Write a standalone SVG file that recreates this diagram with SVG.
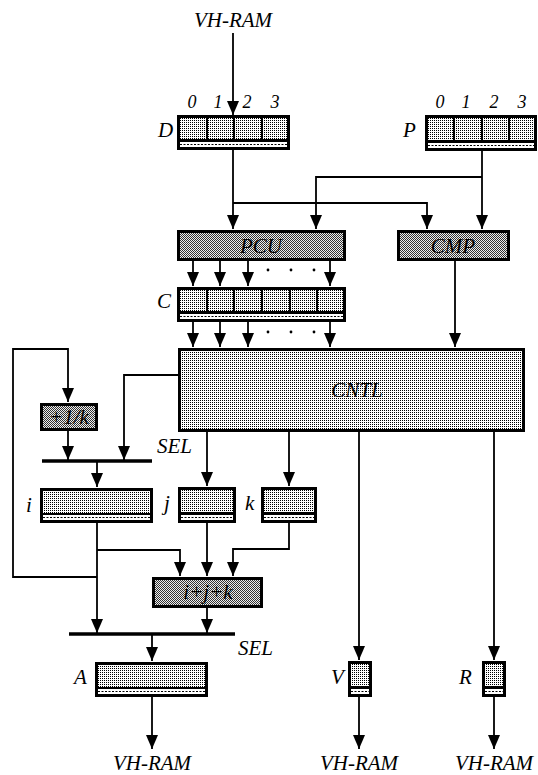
<svg xmlns="http://www.w3.org/2000/svg" width="538" height="775" viewBox="0 0 538 775">
<defs>
<pattern id="lt" width="2" height="2" patternUnits="userSpaceOnUse"><rect width="2" height="2" fill="#fff"/><rect width="1" height="1" fill="#000"/></pattern>
<pattern id="dk" width="2" height="2" patternUnits="userSpaceOnUse"><rect width="2" height="2" fill="#eee"/><rect width="1" height="1" fill="#333"/><rect x="1" y="1" width="1" height="1" fill="#333"/></pattern>
<marker id="ah" viewBox="0 -6 14 12" refX="14" refY="0" markerWidth="14" markerHeight="12" markerUnits="userSpaceOnUse" orient="auto"><path d="M0,-6 L14,0 L0,6 z" fill="#000"/></marker>
<style>
text{font-family:"Liberation Serif","Times New Roman",serif;font-style:italic;fill:#000;font-size:21px}
.num{font-size:18px;text-anchor:middle}
.mid{text-anchor:middle}
.box{stroke:#000;stroke-width:3}
.lt{fill:url(#lt)}
.dk{fill:url(#dk)}
.blk{fill:#000}
.cell{fill:url(#lt)}
.strip{fill:#fff}
.wave{stroke:#000;stroke-width:1.2;stroke-dasharray:2 1.5;fill:none}
.c{fill:none;stroke:#000;stroke-width:1.8}
.a{marker-end:url(#ah)}
.bar{fill:none;stroke:#000;stroke-width:3.5}
</style>
</defs>
<rect width="538" height="775" fill="#fff"/>

<g id="connectors">
<path class="c a" d="M233,33 V115"/>
<path class="c a" d="M233,150 V229"/>
<path class="c a" d="M233,203 H427 V229"/>
<path class="c a" d="M482,150 V229"/>
<path class="c a" d="M482,177 H316 V229"/>
<path class="c a" d="M193,261 V286"/>
<path class="c a" d="M220,261 V286"/>
<path class="c a" d="M248,261 V286"/>
<path class="c a" d="M330,261 V286"/>
<path class="c a" d="M193,322 V347"/>
<path class="c a" d="M220,322 V347"/>
<path class="c a" d="M248,322 V347"/>
<path class="c a" d="M330,322 V347"/>
<path class="c a" d="M455,261 V347"/>
<path class="c a" d="M97,577 H13 V349 H68 V402"/>
<path class="c a" d="M68,430 V460"/>
<path class="c a" d="M178,375 H124 V460"/>
<path class="bar" d="M42,461 H152"/>
<path class="c a" d="M97,462 V487"/>
<path class="c a" d="M97,523 V633"/>
<path class="c a" d="M97,550 H180 V576"/>
<path class="c a" d="M207,432 V486"/>
<path class="c a" d="M289,432 V486"/>
<path class="c a" d="M207,523 V576"/>
<path class="c a" d="M289,523 V549 H233 V576"/>
<path class="c a" d="M207,608 V633"/>
<path class="bar" d="M69,634 H235"/>
<path class="c a" d="M152,635 V661"/>
<path class="c a" d="M152,697 V749"/>
<path class="c a" d="M359,432 V660"/>
<path class="c a" d="M359,697 V749"/>
<path class="c a" d="M494,432 V660"/>
<path class="c a" d="M494,697 V749"/>
<g fill="#000">
<circle cx="268" cy="270" r="1.4"/><circle cx="291" cy="270" r="1.4"/><circle cx="314" cy="270" r="1.4"/>
<circle cx="268" cy="332" r="1.4"/><circle cx="291" cy="332" r="1.4"/><circle cx="314" cy="332" r="1.4"/>
</g>
</g>

<g id="labels-io">
<text class="mid" x="233" y="27">VH-RAM</text>
<text class="mid" x="152" y="770">VH-RAM</text>
<text class="mid" x="359" y="770">VH-RAM</text>
<text class="mid" x="494" y="770">VH-RAM</text>
</g>

<g id="D">
<rect class="blk" x="177" y="115" width="113" height="35"/>
<rect class="cell" x="180" y="118" width="26" height="21"/>
<rect class="cell" x="208" y="118" width="25" height="21"/>
<rect class="cell" x="235" y="118" width="26" height="21"/>
<rect class="cell" x="263" y="118" width="24" height="21"/>
<rect class="strip" x="180" y="142" width="107" height="5"/>
<line class="wave" x1="180" y1="144.5" x2="287" y2="144.5"/>
<text x="158" y="137">D</text>
<text class="num" x="192" y="108">0</text>
<text class="num" x="218" y="108">1</text>
<text class="num" x="247" y="108">2</text>
<text class="num" x="275" y="108">3</text>
</g>

<g id="P">
<rect class="blk" x="425" y="115" width="112" height="36"/>
<rect class="cell" x="428" y="118" width="25" height="22"/>
<rect class="cell" x="455" y="118" width="26" height="22"/>
<rect class="cell" x="483" y="118" width="25" height="22"/>
<rect class="cell" x="510" y="118" width="24" height="22"/>
<rect class="strip" x="428" y="143" width="106" height="5"/>
<line class="wave" x1="428" y1="145.5" x2="534" y2="145.5"/>
<text x="403" y="137">P</text>
<text class="num" x="440" y="108">0</text>
<text class="num" x="466" y="108">1</text>
<text class="num" x="494" y="108">2</text>
<text class="num" x="522" y="108">3</text>
</g>

<g id="PCU">
<rect class="box dk" x="178.5" y="231.5" width="166" height="28"/>
<text class="mid" x="261" y="253">PCU</text>
</g>

<g id="CMP">
<rect class="box dk" x="398.5" y="231.5" width="110" height="28"/>
<text class="mid" x="453" y="253">CMP</text>
</g>

<g id="C">
<rect class="blk" x="177" y="287" width="169" height="35"/>
<rect class="cell" x="180" y="290" width="26" height="21"/>
<rect class="cell" x="208" y="290" width="25" height="21"/>
<rect class="cell" x="235" y="290" width="26" height="21"/>
<rect class="cell" x="263" y="290" width="26" height="21"/>
<rect class="cell" x="291" y="290" width="25" height="21"/>
<rect class="cell" x="318" y="290" width="25" height="21"/>
<rect class="strip" x="180" y="314" width="163" height="5"/>
<line class="wave" x1="180" y1="316.5" x2="343" y2="316.5"/>
<text x="157" y="308">C</text>
</g>

<g id="CNTL">
<rect class="box lt" x="179.5" y="349.5" width="344" height="81"/>
<text class="mid" x="357" y="397">CNTL</text>
</g>

<g id="inc">
<rect class="box dk" x="41.5" y="404.5" width="55" height="25"/>
<text class="mid" x="69" y="424">+1/k</text>
</g>

<g id="sel1">
<text x="157" y="453">SEL</text>
</g>

<g id="i">
<rect class="blk" x="40" y="488" width="113" height="35"/>
<rect class="cell" x="43" y="491" width="107" height="22"/>
<rect class="strip" x="43" y="515" width="107" height="5"/>
<line class="wave" x1="43" y1="517.5" x2="150" y2="517.5"/>
<text x="26" y="512">i</text>
</g>

<g id="j">
<rect class="blk" x="178" y="487" width="58" height="36"/>
<rect class="cell" x="181" y="490" width="52" height="22"/>
<rect class="strip" x="181" y="515" width="52" height="5"/>
<line class="wave" x1="181" y1="517.5" x2="233" y2="517.5"/>
<text x="164" y="510">j</text>
</g>

<g id="k">
<rect class="blk" x="261" y="487" width="56" height="36"/>
<rect class="cell" x="264" y="490" width="50" height="22"/>
<rect class="strip" x="264" y="515" width="50" height="5"/>
<line class="wave" x1="264" y1="517.5" x2="314" y2="517.5"/>
<text x="245" y="510">k</text>
</g>

<g id="ijk">
<rect class="box dk" x="153.5" y="578.5" width="108" height="28"/>
<text class="mid" x="208" y="599">i+j+k</text>
</g>

<g id="sel2">
<text x="238" y="655">SEL</text>
</g>

<g id="A">
<rect class="blk" x="95" y="662" width="113" height="35"/>
<rect class="cell" x="98" y="665" width="107" height="22"/>
<rect class="strip" x="98" y="689" width="107" height="5"/>
<line class="wave" x1="98" y1="691.5" x2="205" y2="691.5"/>
<text x="74" y="684">A</text>
</g>

<g id="V">
<rect class="blk" x="348" y="661" width="24" height="36"/>
<rect class="cell" x="351" y="664" width="18" height="22"/>
<rect class="strip" x="351" y="689" width="18" height="5"/>
<line class="wave" x1="351" y1="691.5" x2="369" y2="691.5"/>
<text x="331" y="684">V</text>
</g>

<g id="R">
<rect class="blk" x="482" y="661" width="24" height="36"/>
<rect class="cell" x="485" y="664" width="18" height="22"/>
<rect class="strip" x="485" y="689" width="18" height="5"/>
<line class="wave" x1="485" y1="691.5" x2="503" y2="691.5"/>
<text x="459" y="684">R</text>
</g>
</svg>
